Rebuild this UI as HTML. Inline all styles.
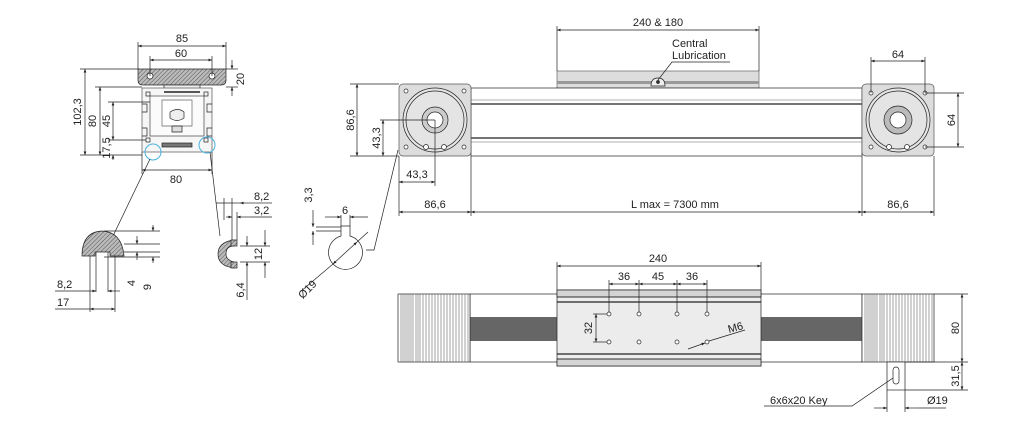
<!DOCTYPE html>
<html><head><meta charset="utf-8"><style>
html,body{margin:0;padding:0;background:#fff;width:1024px;height:430px;overflow:hidden}
svg{display:block}
text{font-family:"Liberation Sans",sans-serif;font-size:11px;fill:#222}
</style></head><body>
<svg width="1024" height="430" viewBox="0 0 1024 430" xmlns="http://www.w3.org/2000/svg">
<defs>
<marker id="a" viewBox="0 0 10 10" refX="10" refY="5" markerWidth="7" markerHeight="5" orient="auto-start-reverse"><path d="M0,1 L10,5 L0,9z" fill="#222"/></marker>
<pattern id="h" width="3" height="3" patternUnits="userSpaceOnUse" patternTransform="rotate(45)"><rect width="3" height="3" fill="#bbb"/><line x1="0" y1="0" x2="0" y2="3" stroke="#555" stroke-width="1"/></pattern>
</defs>
<g stroke="#222" stroke-width="0.7" fill="none">
<!-- ===== Cross section ===== -->
<path d="M138,69 H226 V80 Q226,85 221,85 H143 Q138,85 138,80Z" fill="url(#h)"/>
<circle cx="150" cy="76" r="3" fill="#fff"/><circle cx="212" cy="76" r="3" fill="#fff"/>
<rect x="164" y="85" width="36" height="6" fill="#eee"/>
<rect x="142" y="88" width="70" height="64" fill="#f6f6f6" stroke="#555"/>
<rect x="150" y="96" width="54" height="40" fill="#fbfbfb" stroke="#444"/>
<path d="M162,100 H192 V126 H162Z" fill="#fff" stroke="#666"/>
<path d="M170,112 q8,-5 14,0 v6 q-7,5 -14,0z" fill="#eee"/>
<path d="M172,126 h10 v6 h-10z" fill="#ddd"/>
<rect x="162" y="143" width="30" height="4" fill="#777"/>
<line x1="164" y1="92" x2="200" y2="92" stroke-width="1.5"/>
<rect x="146" y="92" width="4" height="4"/><rect x="204" y="92" width="4" height="4"/>
<rect x="146" y="138" width="4" height="4"/><rect x="204" y="138" width="4" height="4"/>
<path d="M142,104 h5 v8 h-5 M212,104 h-5 v8 h5 M142,128 h5 v8 h-5 M212,128 h-5 v8 h5"/>
<circle cx="153" cy="152" r="8" stroke="#4ab0e0" stroke-width="1"/>
<circle cx="207" cy="145" r="8" stroke="#4ab0e0" stroke-width="1"/>
<!-- dims -->
<line x1="138" y1="69" x2="138" y2="42"/><line x1="226" y1="69" x2="226" y2="42"/>
<line x1="138" y1="46" x2="226" y2="46" marker-start="url(#a)" marker-end="url(#a)"/>
<line x1="150" y1="76" x2="150" y2="56"/><line x1="212" y1="76" x2="212" y2="56"/>
<line x1="150" y1="60" x2="212" y2="60" marker-start="url(#a)" marker-end="url(#a)"/>
<line x1="226" y1="69" x2="238" y2="69"/><line x1="226" y1="87" x2="238" y2="87"/>
<line x1="232" y1="60" x2="232" y2="69" marker-end="url(#a)"/><line x1="232" y1="96" x2="232" y2="87" marker-end="url(#a)"/>
<line x1="80" y1="69" x2="138" y2="69"/><line x1="80" y1="155" x2="142" y2="155"/>
<line x1="85" y1="69" x2="85" y2="155" marker-start="url(#a)" marker-end="url(#a)"/>
<line x1="95" y1="87" x2="142" y2="87"/>
<line x1="100" y1="87" x2="100" y2="155" marker-start="url(#a)" marker-end="url(#a)"/>
<line x1="108" y1="102" x2="150" y2="102"/><line x1="108" y1="140" x2="146" y2="140"/>
<line x1="113" y1="102" x2="113" y2="140" marker-start="url(#a)" marker-end="url(#a)"/>
<line x1="113" y1="160" x2="113" y2="155" marker-end="url(#a)"/>
<line x1="142" y1="152" x2="142" y2="174"/><line x1="212" y1="152" x2="212" y2="174"/>
<line x1="142" y1="170" x2="212" y2="170" marker-start="url(#a)" marker-end="url(#a)"/>
<!-- leaders -->
<line x1="150" y1="159" x2="113" y2="236"/><line x1="210" y1="152" x2="220" y2="236"/>
<!-- T cap detail -->
<path d="M82,256 Q82,232 102,231 Q122,232 124,256 H110 V252 H95 V256Z" fill="url(#h)"/>
<line x1="90" y1="256" x2="90" y2="312"/><line x1="96" y1="252" x2="96" y2="292"/><line x1="108" y1="252" x2="108" y2="292"/><line x1="115" y1="256" x2="115" y2="312"/>
<line x1="55" y1="291" x2="90" y2="291"/><line x1="90" y1="291" x2="96" y2="291" marker-end="url(#a)"/><line x1="120" y1="291" x2="108" y2="291" marker-end="url(#a)"/>
<line x1="55" y1="309" x2="90" y2="309" /><line x1="90" y1="309" x2="115" y2="309" marker-start="url(#a)" marker-end="url(#a)"/>
<line x1="124" y1="244" x2="160" y2="244"/><line x1="124" y1="252" x2="160" y2="252"/><line x1="104" y1="257" x2="160" y2="257"/><line x1="104" y1="231" x2="160" y2="231"/>
<line x1="137" y1="236" x2="137" y2="244" marker-end="url(#a)"/><line x1="137" y1="260" x2="137" y2="252" marker-end="url(#a)"/>
<line x1="153" y1="225" x2="153" y2="231" marker-end="url(#a)"/><line x1="153" y1="263" x2="153" y2="257" marker-end="url(#a)"/>
<!-- C clip -->
<path d="M234,240 Q218,242 218,254 Q218,266 234,268 V262 Q226,260 226,254 Q226,246 234,246Z" fill="url(#h)"/>
<rect x="231" y="240" width="6" height="6" fill="url(#h)"/><rect x="231" y="262" width="6" height="6" fill="url(#h)"/>
<line x1="216" y1="203" x2="234" y2="203"/><line x1="234" y1="203" x2="240" y2="203"/><line x1="256" y1="203" x2="240" y2="203" marker-end="url(#a)"/><line x1="256" y1="203" x2="272" y2="203"/>
<line x1="226" y1="217" x2="232" y2="217" marker-end="url(#a)"/><line x1="250" y1="217" x2="237" y2="217" marker-end="url(#a)"/><line x1="250" y1="217" x2="272" y2="217"/>
<line x1="224" y1="198" x2="224" y2="220"/><line x1="232" y1="198" x2="232" y2="240"/><line x1="237" y1="212" x2="237" y2="240"/>
<line x1="240" y1="246" x2="270" y2="246"/><line x1="240" y1="262" x2="270" y2="262"/>
<line x1="265" y1="230" x2="265" y2="246" marker-end="url(#a)"/><line x1="265" y1="278" x2="265" y2="262" marker-end="url(#a)"/>
<line x1="247" y1="236" x2="247" y2="246" marker-end="url(#a)"/><line x1="247" y1="300" x2="247" y2="262" marker-end="url(#a)"/>
<!-- keyed shaft -->
<path d="M341,236 A17,17 0 1 0 350,236 V226 H341Z" fill="#fff"/>
<line x1="316" y1="227" x2="341" y2="227"/><line x1="316" y1="231" x2="341" y2="231"/>
<line x1="313" y1="210" x2="313" y2="227" marker-end="url(#a)"/><line x1="313" y1="245" x2="313" y2="231" marker-end="url(#a)"/>
<line x1="341" y1="215" x2="341" y2="226"/><line x1="350" y1="215" x2="350" y2="226"/>
<line x1="325" y1="217" x2="341" y2="217" marker-end="url(#a)"/><line x1="368" y1="217" x2="350" y2="217" marker-end="url(#a)"/>
<line x1="300" y1="292" x2="333" y2="264"/><line x1="333" y1="264" x2="357" y2="242" marker-start="url(#a)" marker-end="url(#a)"/><line x1="357" y1="242" x2="368" y2="232"/>
<path d="M366,250 h8 L398,150"/>
<!-- ===== Side view ===== -->
<rect x="557" y="71" width="202" height="17" fill="#ddd" stroke="#666"/>
<rect x="557" y="81" width="202" height="3" fill="#999" stroke="none"/>
<path d="M651,86 q0,-8 7,-8 q7,0 7,8z" fill="#eee"/><circle cx="658" cy="82" r="1.5" fill="#333"/>
<path d="M658,80 L672,62 H730"/>
<rect x="471" y="88" width="391" height="68" fill="#fff"/>
<line x1="471" y1="100" x2="862" y2="100" stroke="#999"/><line x1="471" y1="104" x2="862" y2="104" stroke-width="1.3"/>
<line x1="471" y1="138" x2="862" y2="138" stroke-width="1.3"/><line x1="471" y1="142" x2="862" y2="142" stroke="#999"/>
<rect x="399" y="84" width="72" height="72" rx="4" fill="#ddd" stroke="#555"/>
<rect x="862" y="84" width="72" height="72" rx="4" fill="#ddd" stroke="#555"/>
<g fill="#e4e4e4">
<circle cx="435" cy="120" r="32"/><circle cx="435" cy="120" r="29"/>
<circle cx="435" cy="120" r="13" fill="#ccc"/><circle cx="435" cy="120" r="8" fill="#fff"/>
<circle cx="898" cy="120" r="32"/><circle cx="898" cy="120" r="29"/>
<circle cx="898" cy="120" r="14" fill="#bbb"/><circle cx="898" cy="120" r="8" fill="#fff"/>
<g fill="#fff">
<circle cx="406" cy="91" r="2"/><circle cx="464" cy="91" r="2"/><circle cx="406" cy="147" r="2"/><circle cx="464" cy="147" r="2"/>
<circle cx="871" cy="93" r="2"/><circle cx="925" cy="93" r="2"/><circle cx="871" cy="147" r="2"/><circle cx="925" cy="147" r="2"/>
<circle cx="889" cy="147" r="2.5"/><circle cx="907" cy="147" r="2.5"/><circle cx="426" cy="147" r="2.5"/><circle cx="444" cy="147" r="2.5"/>
</g></g>
<line x1="350" y1="84" x2="399" y2="84"/><line x1="350" y1="156" x2="399" y2="156"/>
<line x1="357" y1="84" x2="357" y2="156" marker-start="url(#a)" marker-end="url(#a)"/>
<line x1="380" y1="120" x2="435" y2="120"/>
<line x1="383" y1="120" x2="383" y2="156" marker-start="url(#a)" marker-end="url(#a)"/>
<line x1="435" y1="120" x2="435" y2="186"/><line x1="399" y1="156" x2="399" y2="216"/>
<line x1="399" y1="182" x2="435" y2="182" marker-start="url(#a)" marker-end="url(#a)"/>
<line x1="471" y1="156" x2="471" y2="216"/><line x1="862" y1="156" x2="862" y2="216"/><line x1="934" y1="156" x2="934" y2="216"/>
<line x1="399" y1="212" x2="471" y2="212" marker-start="url(#a)" marker-end="url(#a)"/>
<line x1="471" y1="212" x2="862" y2="212" marker-start="url(#a)" marker-end="url(#a)"/>
<line x1="862" y1="212" x2="934" y2="212" marker-start="url(#a)" marker-end="url(#a)"/>
<line x1="557" y1="71" x2="557" y2="26"/><line x1="759" y1="71" x2="759" y2="26"/>
<line x1="557" y1="30" x2="759" y2="30" marker-start="url(#a)" marker-end="url(#a)"/>
<line x1="871" y1="93" x2="871" y2="57"/><line x1="925" y1="93" x2="925" y2="57"/>
<line x1="871" y1="61" x2="925" y2="61" marker-start="url(#a)" marker-end="url(#a)"/>
<line x1="925" y1="93" x2="964" y2="93"/><line x1="925" y1="147" x2="964" y2="147"/>
<line x1="958" y1="93" x2="958" y2="147" marker-start="url(#a)" marker-end="url(#a)"/>
<!-- ===== Bottom view ===== -->
<rect x="470" y="294" width="392" height="68" fill="#fff"/>
<rect x="470" y="317" width="392" height="24" fill="#666" stroke="none"/>
<rect x="398" y="294" width="72" height="68" fill="#fff"/>
<path d="M401,294V362M403,294V362M405,294V362M407,294V362M409,294V362M411,294V362M413,294V362M416,294V362M418,294V362M420,294V362M423,294V362M426,294V362M429,294V362M432,294V362M435,294V362M438,294V362M441,294V362M444,294V362M447,294V362M450,294V362M453,294V362M456,294V362M459,294V362M462,294V362M465,294V362M468,294V362" stroke="#666" stroke-width="0.6"/>
<rect x="862" y="294" width="72" height="68" fill="#fff"/>
<path d="M865,294V362M867,294V362M869,294V362M871,294V362M873,294V362M875,294V362M877,294V362M880,294V362M882,294V362M884,294V362M887,294V362M890,294V362M893,294V362M896,294V362M899,294V362M902,294V362M905,294V362M908,294V362M911,294V362M914,294V362M917,294V362M920,294V362M923,294V362M926,294V362M929,294V362M932,294V362" stroke="#666" stroke-width="0.6"/>
<rect x="557" y="290" width="204" height="76" fill="#ececec"/>
<rect x="557" y="290" width="204" height="7" fill="#d4d4d4"/><rect x="557" y="359" width="204" height="7" fill="#d4d4d4"/>
<line x1="557" y1="297" x2="761" y2="297"/><line x1="557" y1="302" x2="761" y2="302" stroke-width="1.2"/>
<line x1="557" y1="354" x2="761" y2="354" stroke-width="1.2"/><line x1="557" y1="359" x2="761" y2="359"/>
<g fill="#fff"><circle cx="609" cy="314" r="2"/><circle cx="639" cy="314" r="2"/><circle cx="677" cy="314" r="2"/><circle cx="707" cy="314" r="2"/>
<circle cx="609" cy="342" r="2"/><circle cx="639" cy="342" r="2"/><circle cx="677" cy="342" r="2"/><circle cx="707" cy="342" r="2"/></g>
<line x1="557" y1="290" x2="557" y2="262"/><line x1="761" y1="290" x2="761" y2="262"/>
<line x1="557" y1="266" x2="761" y2="266" marker-start="url(#a)" marker-end="url(#a)"/>
<line x1="609" y1="312" x2="609" y2="280"/><line x1="639" y1="312" x2="639" y2="280"/><line x1="677" y1="312" x2="677" y2="280"/><line x1="707" y1="312" x2="707" y2="280"/>
<line x1="609" y1="284" x2="639" y2="284" marker-start="url(#a)" marker-end="url(#a)"/>
<line x1="639" y1="284" x2="677" y2="284" marker-start="url(#a)" marker-end="url(#a)"/>
<line x1="677" y1="284" x2="707" y2="284" marker-start="url(#a)" marker-end="url(#a)"/>
<line x1="593" y1="314" x2="607" y2="314"/><line x1="593" y1="342" x2="607" y2="342"/>
<line x1="596" y1="314" x2="596" y2="342" marker-start="url(#a)" marker-end="url(#a)"/>
<line x1="688" y1="349" x2="705" y2="343" marker-end="url(#a)"/><line x1="709" y1="341" x2="745" y2="330"/>
<line x1="934" y1="294" x2="968" y2="294"/><line x1="905" y1="362" x2="968" y2="362"/><line x1="905" y1="390" x2="968" y2="390"/>
<line x1="962" y1="294" x2="962" y2="362" marker-start="url(#a)" marker-end="url(#a)"/>
<line x1="962" y1="362" x2="962" y2="390" marker-start="url(#a)" marker-end="url(#a)"/>
<rect x="887" y="362" width="18" height="28" fill="#fff"/>
<rect x="893" y="367" width="6" height="17" rx="3"/>
<line x1="887" y1="390" x2="887" y2="412"/><line x1="905" y1="390" x2="905" y2="412"/>
<line x1="874" y1="408" x2="887" y2="408" marker-end="url(#a)"/><line x1="918" y1="408" x2="905" y2="408" marker-end="url(#a)"/><line x1="918" y1="408" x2="946" y2="408"/>
<path d="M764,406 H852 L893,378"/>
</g>
<!-- texts -->
<text x="182" y="42" text-anchor="middle">85</text>
<text x="181" y="57" text-anchor="middle">60</text>
<text transform="translate(244,79) rotate(-90)" text-anchor="middle">20</text>
<text transform="translate(81,112) rotate(-90)" text-anchor="middle">102,3</text>
<text transform="translate(96,121) rotate(-90)" text-anchor="middle">80</text>
<text transform="translate(110,121) rotate(-90)" text-anchor="middle">45</text>
<text transform="translate(110,148) rotate(-90)" text-anchor="middle">17,5</text>
<text x="176" y="183" text-anchor="middle">80</text>
<text x="57" y="288">8,2</text><text x="57" y="306">17</text>
<text transform="translate(135,283) rotate(-90)" text-anchor="middle">4</text>
<text transform="translate(151,287) rotate(-90)" text-anchor="middle">9</text>
<text x="254" y="200">8,2</text><text x="254" y="214">3,2</text>
<text transform="translate(262,254) rotate(-90)" text-anchor="middle">12</text>
<text transform="translate(244,290) rotate(-90)" text-anchor="middle">6,4</text>
<text transform="translate(312,195) rotate(-90)" text-anchor="middle">3,3</text>
<text x="345" y="214" text-anchor="middle">6</text>
<text transform="translate(310,292) rotate(-45)" text-anchor="middle">Ø19</text>
<text transform="translate(354,120) rotate(-90)" text-anchor="middle">86,6</text>
<text transform="translate(380,138) rotate(-90)" text-anchor="middle">43,3</text>
<text x="417" y="178" text-anchor="middle">43,3</text>
<text x="435" y="208" text-anchor="middle">86,6</text>
<text x="631" y="208">L max = 7300 mm</text>
<text x="898" y="208" text-anchor="middle">86,6</text>
<text x="658" y="26" text-anchor="middle">240 &amp; 180</text>
<text x="672" y="47">Central</text><text x="672" y="59">Lubrication</text>
<text x="898" y="58" text-anchor="middle">64</text>
<text transform="translate(955,120) rotate(-90)" text-anchor="middle">64</text>
<text x="658" y="262" text-anchor="middle">240</text>
<text x="624" y="280" text-anchor="middle">36</text><text x="658" y="280" text-anchor="middle">45</text><text x="692" y="280" text-anchor="middle">36</text>
<text transform="translate(592,328) rotate(-90)" text-anchor="middle">32</text>
<text transform="translate(729,333) rotate(-15)">M6</text>
<text transform="translate(959,328) rotate(-90)" text-anchor="middle">80</text>
<text transform="translate(959,376) rotate(-90)" text-anchor="middle">31,5</text>
<text x="770" y="404">6x6x20 Key</text>
<text x="927" y="404">Ø19</text>
</svg>
</body></html>
